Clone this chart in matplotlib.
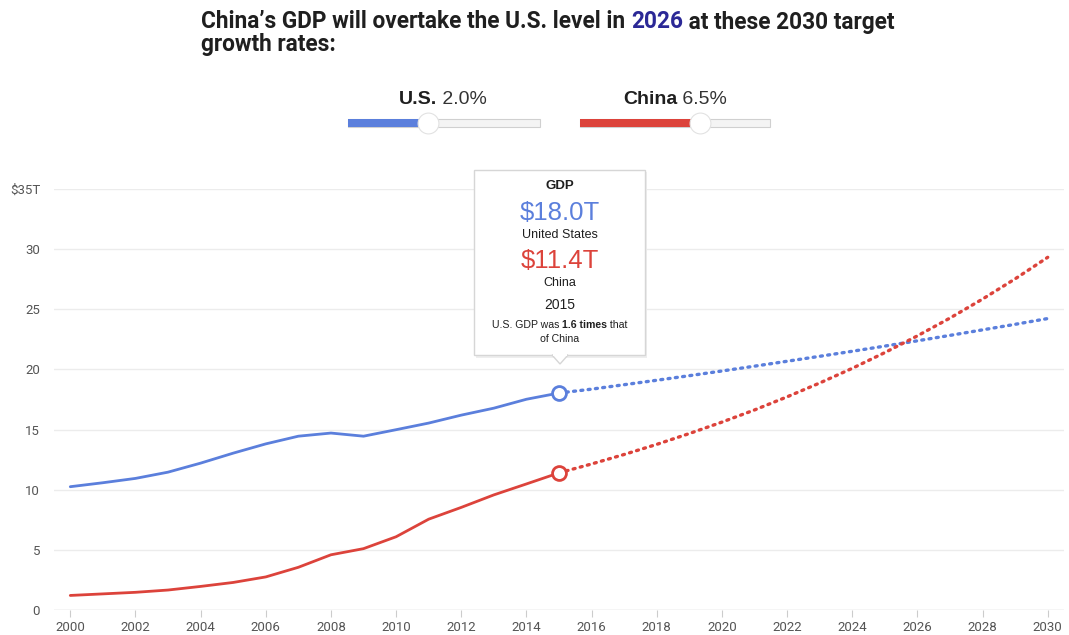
"""
China vs U.S. GDP with projected growth to 2030.
"""
import matplotlib
matplotlib.use("Agg")
import matplotlib.pyplot as plt
from matplotlib.patches import Rectangle, FancyBboxPatch, Polygon

# Historical GDP, trillions USD
hist_years = list(range(2000, 2016))
us_hist = [10.25, 10.58, 10.94, 11.46, 12.21, 13.04, 13.81, 14.45, 14.71, 14.45,
           14.99, 15.54, 16.20, 16.78, 17.52, 18.04]
china_hist = [1.21, 1.34, 1.47, 1.66, 1.96, 2.29, 2.75, 3.55, 4.59, 5.10,
              6.09, 7.55, 8.53, 9.57, 10.48, 11.40]

# Projection at the target rates
proj_years = list(range(2015, 2031))
us_proj = [18.04, 18.36, 18.73, 19.10, 19.48, 19.87, 20.27, 20.68, 21.09, 21.51,
           21.94, 22.38, 22.83, 23.29, 23.75, 24.23]
china_proj = [11.40, 12.14, 12.93, 13.77, 14.67, 15.62, 16.63, 17.72, 18.87, 20.09,
              21.40, 22.79, 24.27, 25.85, 27.53, 29.32]

x_ticks = list(range(2000, 2031, 2))
y_ticks = [0, 5, 10, 15, 20, 25, 30, 35]
y_labels = ["0", "5", "10", "15", "20", "25", "30", "$35T"]

US_BLUE = "#5b7fdc"
CN_RED = "#dc433b"
TEXT = "#1f1f1f"
GREY = "#555555"
SANS = ["Liberation Sans", "DejaVu Sans"]

plt.rcParams["font.family"] = ["Roboto", "DejaVu Sans"]

W, H = 1069, 635
fig = plt.figure(figsize=(W / 100, H / 100), dpi=100)


def fx(px):
    return px / W


def fy(py):
    return 1 - py / H


ax = fig.add_axes([fx(54), fy(610), fx(1064) - fx(54), fy(189) - fy(610)])
ax.set_xlim(1999.5, 2030.5)
ax.set_ylim(0, 35)
for s in ax.spines.values():
    s.set_visible(False)
ax.set_yticks(y_ticks)
ax.set_yticklabels(y_labels)
ax.set_xticks(x_ticks)
ax.tick_params(axis="y", length=0, pad=10, labelsize=9.5, labelcolor=GREY)
ax.tick_params(axis="x", length=5, color="#cccccc", pad=3, labelsize=9.5, labelcolor=GREY)
ax.grid(axis="y", color="#ececec", lw=1)
ax.set_axisbelow(True)
ax.axhline(0, color="#dddddd", lw=1)

ax.plot(hist_years, us_hist, color=US_BLUE, lw=2, solid_capstyle="round", zorder=3)
ax.plot(hist_years, china_hist, color=CN_RED, lw=2, solid_capstyle="round", zorder=3)
ax.plot(proj_years, us_proj, color=US_BLUE, lw=2.4, ls=(0, (0.6, 1.6)),
        dash_capstyle="round", zorder=3)
ax.plot(proj_years, china_proj, color=CN_RED, lw=2.4, ls=(0, (0.6, 1.6)),
        dash_capstyle="round", zorder=3)
ax.plot([2015], [us_hist[-1]], "o", ms=10, mfc="white", mec=US_BLUE, mew=2, zorder=4)
ax.plot([2015], [china_hist[-1]], "o", ms=10, mfc="white", mec=CN_RED, mew=2, zorder=4)

# Title with highlighted year
renderer = fig.canvas.get_renderer()
parts = [("China\u2019s GDP will overtake the U.S. level in ", TEXT),
         ("2026", "#2b2896"),
         (" at these 2030 target", TEXT)]
x0 = 201
for txt, col in parts:
    t = fig.text(fx(x0), fy(22), txt, fontsize=16.3, fontweight="bold", color=col,
                 va="center", ha="left")
    x0 += t.get_window_extent(renderer).width
fig.text(fx(201), fy(45), "growth rates:", fontsize=16.3, fontweight="bold", color=TEXT,
         va="center", ha="left")


# Slider controls
def slider(cx, bold, pct, x_left, x_right, x_knob, col):
    t1 = fig.text(0, fy(99), bold, fontsize=14, fontweight="bold", color=TEXT,
                  va="center", family=SANS)
    t2 = fig.text(0, fy(99), " " + pct, fontsize=14, color="#333333", va="center",
                  family=SANS)
    w1 = t1.get_window_extent(renderer).width
    w2 = t2.get_window_extent(renderer).width
    start = cx - (w1 + w2) / 2
    t1.set_x(fx(start))
    t2.set_x(fx(start + w1))
    fig.add_artist(Rectangle((fx(x_left), fy(127)), fx(x_right) - fx(x_left), fy(119) - fy(127),
                             facecolor="#f4f4f4", edgecolor="#d0d0d0", lw=0.8,
                             transform=fig.transFigure))
    fig.add_artist(Rectangle((fx(x_left), fy(127)), fx(x_knob) - fx(x_left), fy(119) - fy(127),
                             facecolor=col, edgecolor="none", transform=fig.transFigure))
    knob = plt.Line2D([fx(x_knob)], [fy(123)], marker="o", ms=15, mfc="white",
                      mec="#e2e2e2", mew=0.8, transform=fig.transFigure)
    fig.add_artist(knob)


slider(443, "U.S.", "2.0%", 348, 540, 428, US_BLUE)
slider(675, "China", "6.5%", 580, 770, 700, CN_RED)

# Tooltip box with soft shadow
shadow = FancyBboxPatch((fx(476), fy(358)), fx(647) - fx(476), fy(172) - fy(358),
                        boxstyle="square,pad=0", facecolor="#eeeeee", edgecolor="none",
                        transform=fig.transFigure, zorder=4)
fig.add_artist(shadow)
box = FancyBboxPatch((fx(474), fy(355)), fx(645) - fx(474), fy(170) - fy(355),
                     boxstyle="square,pad=0", facecolor="white", edgecolor="#d6d6d6",
                     lw=1, transform=fig.transFigure, zorder=5)
fig.add_artist(box)
tri = Polygon([[fx(552), fy(355)], [fx(568), fy(355)], [fx(560), fy(364)]], closed=True,
              facecolor="white", edgecolor="#d6d6d6", lw=1, transform=fig.transFigure, zorder=5)
fig.add_artist(tri)
fig.add_artist(Rectangle((fx(553), fy(356)), fx(567) - fx(553), fy(354) - fy(356),
                         facecolor="white", edgecolor="none", transform=fig.transFigure, zorder=6))

cx = fx(560)
fig.text(cx, fy(186), "GDP", fontsize=9.5, fontweight="bold", color=TEXT, ha="center",
         va="center", zorder=7, family=SANS)
fig.text(cx, fy(213), "$18.0T", fontsize=18.5, color=US_BLUE, ha="center", va="center",
         zorder=7, family=SANS)
fig.text(cx, fy(235), "United States", fontsize=9, color=TEXT, ha="center", va="center",
         zorder=7, family=SANS)
fig.text(cx, fy(261), "$11.4T", fontsize=18.5, color=CN_RED, ha="center", va="center",
         zorder=7, family=SANS)
fig.text(cx, fy(283), "China", fontsize=9, color=TEXT, ha="center", va="center",
         zorder=7, family=SANS)
fig.text(cx, fy(305), "2015", fontsize=10, color=TEXT, ha="center", va="center",
         zorder=7, family=SANS)

# Note line with bold "1.6 times"
note = [("U.S. GDP was ", "normal"), ("1.6 times", "bold"), (" that", "normal")]
widths = []
tmp = []
for txt, wt in note:
    t = fig.text(0, fy(325), txt, fontsize=7.6, fontweight=wt, color=TEXT, va="center",
                 zorder=7, family=SANS)
    tmp.append(t)
    widths.append(t.get_window_extent(renderer).width)
xs = 560 - sum(widths) / 2
for t, w in zip(tmp, widths):
    t.set_x(fx(xs))
    xs += w
fig.text(cx, fy(339), "of China", fontsize=7.6, color=TEXT, ha="center", va="center",
         zorder=7, family=SANS)

fig.savefig("out.png", dpi=100, facecolor="white")
